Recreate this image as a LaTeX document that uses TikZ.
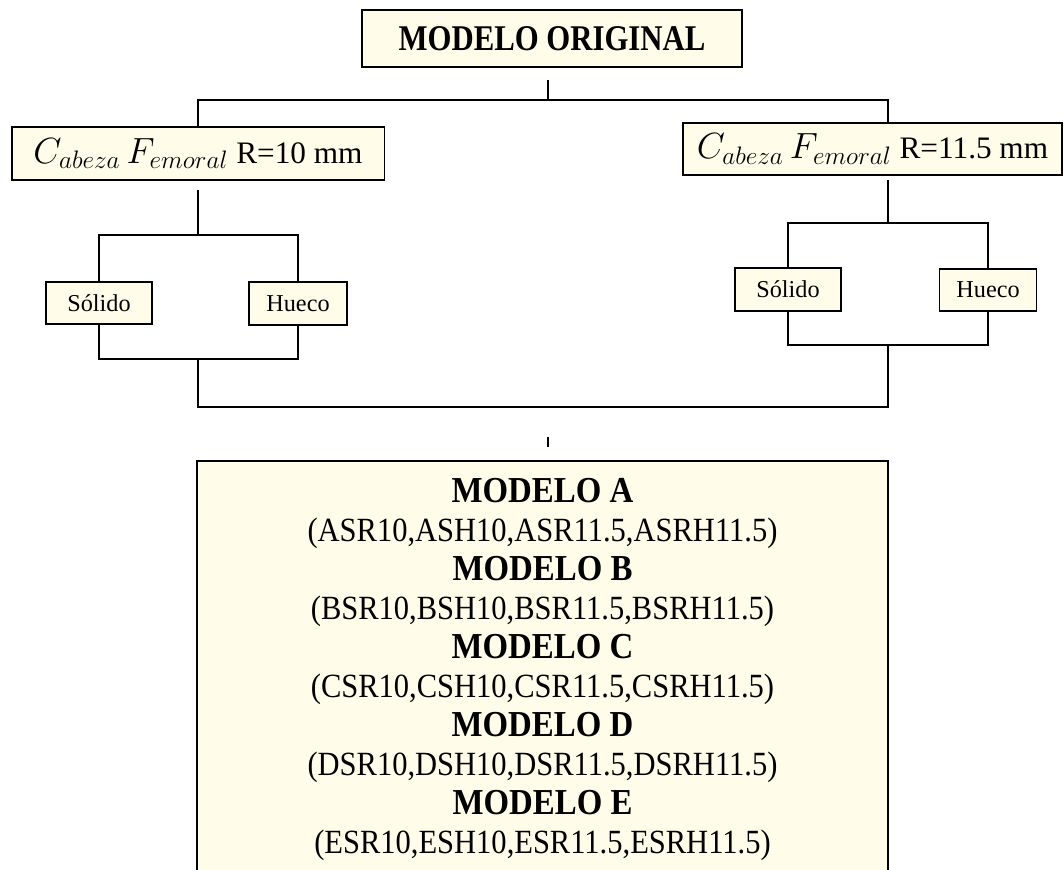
\documentclass[tikz,border=0pt]{standalone}
\usepackage{fontspec}
\setmainfont{Liberation Serif}
\newfontfamily\narrowserif[FakeStretch=0.85]{Liberation Serif}
\newfontfamily\modfont[FakeStretch=0.9]{Liberation Serif}
\usepackage{tikz}
\usetikzlibrary{calc}
\definecolor{boxfill}{RGB}{255,253,233}

\tikzset{
  box/.style={draw=black, fill=boxfill, line width=1.1pt, inner sep=0pt},
  link/.style={black, line width=1.1pt},
  headtext/.style={font=\fontsize{17.8}{20}\selectfont},
  leaftext/.style={font=\fontsize{13.8}{16}\selectfont},
  modtitle/.style={font=\modfont\bfseries\fontsize{20.8}{24}\selectfont},
  modlist/.style={font=\modfont\fontsize{19.3}{22}\selectfont},
}
\newcommand{\cabeza}{{\fontsize{20.74}{22}\selectfont$C_{abeza}\,F_{emoral}$}}

\begin{document}
\begin{tikzpicture}[x=0.02cm, y=-0.02cm]
        \clip (0,0) rectangle (1064,869);

        % Top box
        \node[box, minimum width=7.6cm, minimum height=1.14cm,
              font=\narrowserif\bfseries\fontsize{20.6}{24}\selectfont] (orig) at (552,38.5) {MODELO ORIGINAL};

        % Head radius boxes
        \node[box, headtext, minimum width=7.46cm, minimum height=1.06cm] (cab10) at (198,153.5)
            {\cabeza{} R=10 mm};
        \node[box, headtext, minimum width=7.58cm, minimum height=1.04cm] (cab11) at (872.5,149)
            {\cabeza{} R=11.5 mm};

        % Solid / hollow boxes
        \node[box, leaftext, minimum width=2.12cm, minimum height=0.84cm] (sol10) at (99,303) {Sólido};
        \node[box, leaftext, minimum width=1.96cm, minimum height=0.86cm] (hue10) at (298,303.5) {Hueco};
        \node[box, leaftext, minimum width=2.12cm, minimum height=0.86cm] (sol11) at (788,289.5) {Sólido};
        \node[box, leaftext, minimum width=1.94cm, minimum height=0.84cm] (hue11) at (988,290) {Hueco};

        % Models box
        \node[box, anchor=north, minimum width=13.82cm, minimum height=8.8cm] (modelos) at (542.5,460) {};
        \foreach \mdl [count=\i from 0] in {A,B,C,D,E} {
            \node[modtitle, anchor=base] (m\mdl) at (542.5,502+78*\i) {MODELO \mdl};
            \node[modlist, anchor=base] (p\mdl) at (542.5,541+78*\i) {(\mdl SR10,\mdl SH10,\mdl SR11.5,\mdl SRH11.5)};
        }

        % Connectors at the top
        \coordinate (t0) at ($(orig.south)+(-4,12)$);
        \coordinate (busL) at (198,100);
        \coordinate (busR) at (888,100);
        \draw[link] (t0) -- (t0 |- busL);
        \draw[link] (cab10.north) -- (cab10.north |- busL) -- (busR) -- (busR |- cab11.north);

        % Left branch
        \coordinate (l0) at ($(cab10.south)+(0,9)$);
        \coordinate (lbus) at (198,235);
        \coordinate (ljoin) at (198,359);
        \draw[link] (l0) -- (lbus);
        \draw[link] (sol10.north) |- (lbus) -| (hue10.north);
        \draw[link] (sol10.south) |- (ljoin) -| (hue10.south);

        % Right branch
        \coordinate (r0) at ($(busR |- cab11.south)+(0,4)$);
        \coordinate (rbus) at (888,223);
        \coordinate (rjoin) at (888,345);
        \draw[link] (r0) -- (rbus);
        \draw[link] (sol11.north) |- (rbus) -| (hue11.north);
        \draw[link] (sol11.south) |- (rjoin) -| (hue11.south);

        % Joining both branches
        \coordinate (lowL) at (198,407);
        \coordinate (lowR) at (888,407);
        \draw[link] (ljoin) -- (lowL) -- (lowR) -- (rjoin);

        % Stub above the models box
        \coordinate (b0) at (548,437);
        \draw[link, shorten >=0.26cm] (b0) -- (b0 |- modelos.north);
\end{tikzpicture}
\end{document}
